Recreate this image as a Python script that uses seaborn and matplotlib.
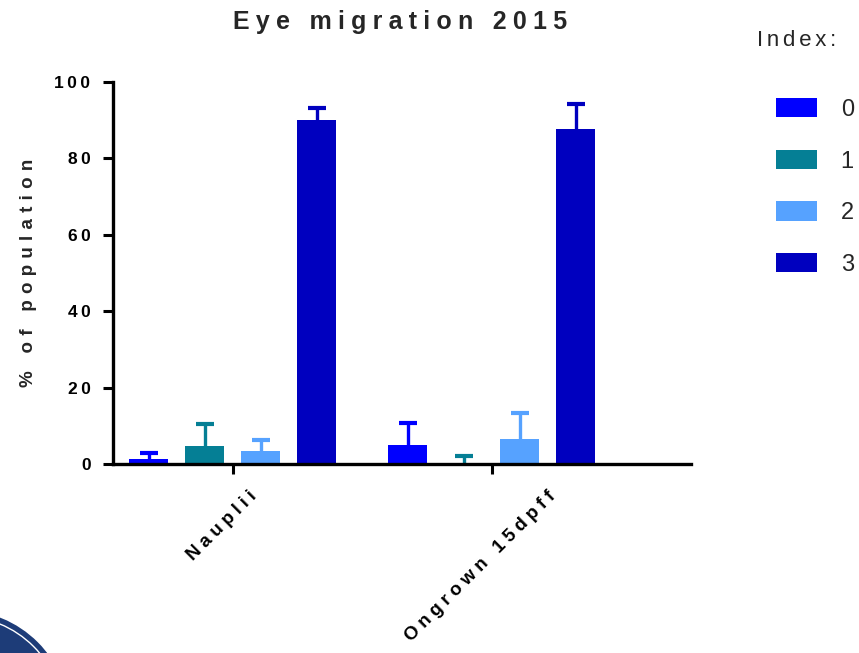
import matplotlib
matplotlib.use("Agg")
import matplotlib.pyplot as plt
import matplotlib.transforms as mtransforms
from matplotlib.patches import Circle, Patch
import numpy as np
import pandas as pd
import seaborn as sns

# ---- data -------------------------------------------------------------
groups = ["Nauplii", "Ongrown 15dpff"]
index_levels = ["0", "1", "2", "3"]
means_nauplii = [1.3, 4.7, 3.4, 90.1]
sd_nauplii = [1.7, 5.7, 2.8, 3.0]
means_ongrown = [5.0, 0.3, 6.5, 87.5]
sd_ongrown = [5.6, 1.9, 6.9, 6.7]
palette = ["#0000FF", "#057F95", "#56A2FF", "#0000BF"]
yticks = [0, 20, 40, 60, 80, 100]
title = "Eye migration 2015"
ylabel = "% of population"
legend_title = "Index:"

means = {groups[0]: means_nauplii, groups[1]: means_ongrown}
sds = {groups[0]: sd_nauplii, groups[1]: sd_ongrown}
df = pd.DataFrame(
    [(g, lvl, means[g][i], sds[g][i])
     for g in groups for i, lvl in enumerate(index_levels)],
    columns=["group", "index", "mean", "sd"],
)

# ---- style ------------------------------------------------------------
sns.set_style("ticks")
plt.rcParams["font.family"] = ["Liberation Sans", "DejaVu Sans"]

THIN = "\u2009"          # 1/5 em
FOUR_PER_EM = "\u2005"   # 1/4 em
THREE_PER_EM = "\u2004"  # 1/3 em
SIX_PER_EM = "\u2006"    # 1/6 em


def track(s, sep=THIN):
    """Widen letter spacing by putting a narrow space between characters."""
    return sep.join(s)


fig = plt.figure(figsize=(8.59, 6.53), dpi=100)
ax = fig.add_axes([113 / 859, 189 / 653, (690.7 - 113) / 859, (464 - 81.7) / 653])

sns.barplot(
    data=df, x="group", y="mean", hue="index", order=groups,
    hue_order=index_levels, palette=palette, saturation=1,
    errorbar=None, width=0.865, gap=0.30, legend=False, linewidth=0,
    ax=ax,
)
for bar in ax.patches:
    bar.set_zorder(3)
    bar.set_linewidth(0)

# upward-only error bars (mean + SD), drawn behind the bars
for lvl, color, container in zip(index_levels, palette, ax.containers):
    for g, bar in zip(groups, container):
        row = df[(df["group"] == g) & (df["index"] == lvl)].iloc[0]
        xc = bar.get_x() + bar.get_width() / 2
        eb = ax.errorbar(
            xc, row["mean"], yerr=[[0], [row["sd"]]], fmt="none",
            ecolor=color, elinewidth=2.4, capsize=6.5, capthick=3.0,
            zorder=2,
        )
        caps = eb[1]
        if len(caps) == 2:
            caps[0].set_visible(False)

ax.set_xlim(-0.462, 1.768)
ax.set_ylim(0, 100)
ax.set_yticks(yticks)
ax.set_yticklabels([track(str(t)) for t in yticks], fontsize=12.5,
                   fontweight="bold")
ax.set_xticks(range(len(groups)))
ax.set_xticklabels([track(g, FOUR_PER_EM) for g in groups], rotation=45,
                   ha="center", va="top", fontsize=13.5, fontweight="bold")

ax.set_xlabel("")
ax.set_ylabel(track(ylabel, THREE_PER_EM), fontsize=13.5, fontweight="bold")
ax.yaxis.set_label_coords(-0.131, 0.5)

sns.despine(ax=ax)
for side in ("left", "bottom"):
    ax.spines[side].set_linewidth(2.4)
    ax.spines[side].set_color("black")
    ax.spines[side].set_zorder(4)
ax.tick_params(axis="both", length=7.2, width=2.2, color="black",
               labelcolor="black")
ax.tick_params(axis="y", pad=9)
ax.tick_params(axis="x", pad=10)

# nudge the slanted category labels a little to the left
shift = mtransforms.ScaledTranslation(-11 / 100, 0, fig.dpi_scale_trans)
for tick in ax.xaxis.get_major_ticks():
    tick.label1.set_transform(tick.label1.get_transform() + shift)

fig.text(400 / 859, 1 - 22 / 653, track(title, FOUR_PER_EM), ha="center",
         va="center", fontsize=18, fontweight="bold")

# legend
fig.text(757 / 859, 1 - 40 / 653, track(legend_title, SIX_PER_EM),
         ha="left", va="center", fontsize=16)
handles = [Patch(facecolor=c, edgecolor="none") for c in palette]
fig.legend(
    handles, index_levels, loc="upper left",
    bbox_to_anchor=(776 / 859, 1 - 98 / 653), frameon=False, fontsize=17,
    handlelength=41 / 23.6, handleheight=21 / 23.6, handletextpad=1.0,
    labelspacing=1.22, borderpad=0, borderaxespad=0,
)

# partial seal in the lower-left corner
seal_color = "#1d3c78"
fig.add_artist(Circle((-0.40, -0.67), 1.10, transform=fig.dpi_scale_trans,
                      facecolor=seal_color, edgecolor="none"))
fig.add_artist(Circle((-0.40, -0.67), 1.04, transform=fig.dpi_scale_trans,
                      facecolor="none", edgecolor="white", linewidth=1.0))

fig.savefig("out.png", dpi=100)
